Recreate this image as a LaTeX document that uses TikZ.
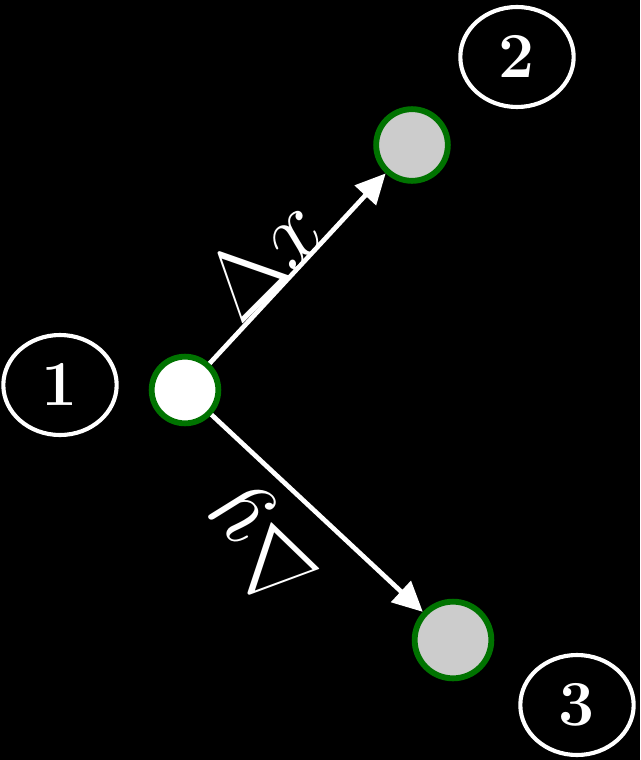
\documentclass[tikz,border=0pt]{standalone}
\usepackage{amsmath,bm,graphicx}
\usetikzlibrary{arrows.meta,shapes.geometric}
\begin{document}
\begin{tikzpicture}[x=0.03cm,y=-0.03cm,
  pt/.style={circle,draw=green!45!black,line width=5pt,minimum size=2.0cm,inner sep=0pt},
  lab/.style={ellipse,draw=white,line width=3.5pt,fill=black,minimum width=3.4cm,minimum height=3.0cm,inner sep=0pt,text=white},
  arr/.style={draw=white,line width=4pt,-{Triangle[length=0.9cm,width=0.85cm]}},
  dl/.style={text=white,inner sep=0pt}]
\fill[black] (0,0) rectangle (640,760);
\useasboundingbox (0,0) rectangle (640,760);
\node[pt,fill=white] (n1) at (185,390) {};
\node[pt,fill=gray!40,minimum size=2.15cm] (n2) at (412,145) {};
\node[pt,fill=gray!40,minimum size=2.3cm] (n3) at (453,640) {};
\node[lab] (l1) at (60,385) {\scalebox{2.2}{\Huge $\bm{1}$}};
\node[lab] (l2) at (517,57) {\scalebox{2.2}{\Huge $\bm{2}$}};
\node[lab] (l3) at (577,705) {\scalebox{2.2}{\Huge $\bm{3}$}};
\draw[arr] (n1) -- (n2);
\draw[arr] (n1) -- (n3);
\node[dl,rotate=45] (dx) at (262,258) {\scalebox{3.3}{\Huge $\Delta x$}};
\node[dl,rotate=136] (dy) at (262,545) {\scalebox{3.3}{\Huge $\Delta y$}};
\end{tikzpicture}
\end{document}
